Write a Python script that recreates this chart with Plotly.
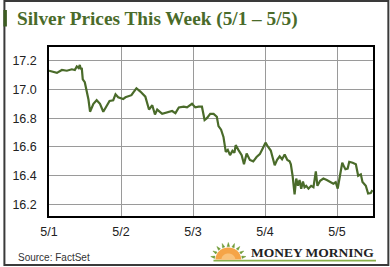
import plotly.graph_objects as go
import math

# ---- data ----
day_pos = [0, 0.055, 0.110, 0.179, 0.248, 0.317, 0.359, 0.386, 0.410, 0.428, 0.441, 0.455,
           0.469, 0.497, 0.524, 0.548, 0.570, 0.617, 0.662, 0.708, 0.754, 0.800, 0.841,
           0.892, 0.924, 0.961, 0.993, 1.030, 1.062, 1.099, 1.145, 1.172, 1.193, 1.214,
           1.269, 1.338, 1.389, 1.434, 1.472, 1.503, 1.572, 1.641, 1.710, 1.756, 1.803,
           1.872, 1.917, 1.986, 2.032, 2.079, 2.124, 2.161, 2.193, 2.239, 2.286, 2.331,
           2.354, 2.390, 2.423, 2.455, 2.483, 2.514, 2.548, 2.575, 2.593, 2.630, 2.676,
           2.708, 2.745, 2.790, 2.837, 2.883, 2.928, 2.961, 3.007, 3.044, 3.080, 3.135,
           3.168, 3.204, 3.237, 3.273, 3.310, 3.342, 3.359, 3.383, 3.411, 3.434, 3.458,
           3.480, 3.503, 3.527, 3.549, 3.572, 3.604, 3.641, 3.673, 3.706, 3.728, 3.766,
           3.811, 3.858, 3.903, 3.949, 3.982, 4.010, 4.041, 4.073, 4.101, 4.117, 4.148,
           4.170, 4.217, 4.262, 4.294, 4.331, 4.354, 4.400, 4.432, 4.469, 4.492]
prices = [17.13, 17.125, 17.115, 17.135, 17.13, 17.14, 17.135, 17.16, 17.15, 17.17, 17.14, 17.15,
          17.07, 17.05, 16.995, 16.93, 16.845, 16.90, 16.925, 16.90, 16.845, 16.89, 16.92,
          16.925, 16.966, 16.945, 16.94, 16.933, 16.945, 16.95, 16.96, 16.98, 16.995, 17.008,
          16.985, 16.95, 16.86, 16.89, 16.826, 16.86, 16.83, 16.84, 16.85, 16.835, 16.875,
          16.88, 16.875, 16.90, 16.875, 16.88, 16.88, 16.787, 16.80, 16.83, 16.83, 16.81,
          16.745, 16.72, 16.67, 16.566, 16.58, 16.543, 16.573, 16.56, 16.613, 16.58, 16.543,
          16.48, 16.555, 16.51, 16.50, 16.53, 16.55, 16.583, 16.63, 16.60, 16.575, 16.473,
          16.51, 16.535, 16.515, 16.548, 16.51, 16.50, 16.48, 16.40, 16.27, 16.38, 16.33,
          16.37, 16.31, 16.36, 16.32, 16.33, 16.31, 16.33, 16.32, 16.43, 16.33, 16.365,
          16.38, 16.37, 16.355, 16.345, 16.355, 16.31, 16.40, 16.49, 16.46, 16.445, 16.45,
          16.497, 16.49, 16.48, 16.40, 16.41, 16.357, 16.33, 16.276, 16.28, 16.30]
x_tick_vals = [0, 1, 2, 3, 4]
x_tick_text = ["5/1", "5/2", "5/3", "5/4", "5/5"]
y_tick_vals = [16.2, 16.4, 16.6, 16.8, 17.0, 17.2]
y_tick_text = ["16.2", "16.4", "16.6", "16.8", "17.0", "17.2"]

# ---- layout geometry (pixels) ----
W, H = 390, 267
L, R, T, B = 46, 17, 47, 51
PW, PH = W - L - R, H - T - B

def px(x):
    return (x - L) / PW

def py(y):
    return (H - B - y) / PH

fig = go.Figure()
fig.add_trace(go.Scatter(x=day_pos, y=prices, mode="lines",
                         line=dict(color="#4a6b2a", width=2.2), hoverinfo="skip"))

shapes = []
# outer frame
shapes.append(dict(type="rect", xref="paper", yref="paper",
                   x0=px(1), x1=px(388.5), y0=py(265), y1=py(1),
                   line=dict(color="#3a3a3a", width=2), layer="above"))
# green title bar
shapes.append(dict(type="rect", xref="paper", yref="paper",
                   x0=px(0), x1=px(3.5), y0=py(26.5), y1=py(10),
                   fillcolor="#3d5c22", line=dict(width=0)))
# logo underline
shapes.append(dict(type="rect", xref="paper", yref="paper",
                   x0=px(212), x1=px(376), y0=py(261.5), y1=py(259.8),
                   fillcolor="#8bb04a", line=dict(width=0), layer="above"))
# sun
cx, cy, rx, ry = 227, 259.5, 13, 12
pts = []
for i in range(0, 37):
    a = math.pi * i / 36
    pts.append((cx + rx * math.cos(a), cy - ry * math.sin(a)))
path = "M " + " L ".join(f"{px(a):.5f},{py(b):.5f}" for a, b in pts) + " Z"
shapes.append(dict(type="path", xref="paper", yref="paper", path=path,
                   fillcolor="#f5a447", line=dict(width=0)))
# inner lighter glow
pts2 = []
for i in range(0, 37):
    a = math.pi * i / 36
    pts2.append((cx + 7 * math.cos(a), cy - 6 * math.sin(a)))
path2 = "M " + " L ".join(f"{px(a):.5f},{py(b):.5f}" for a, b in pts2) + " Z"
shapes.append(dict(type="path", xref="paper", yref="paper", path=path2,
                   fillcolor="#f9c27a", line=dict(width=0)))
# rays
for k in range(0, 9):
    a = math.pi * (10 + 20 * k) / 180
    r0x, r0y = rx + 1, ry + 1
    r1x, r1y = rx + 5, ry + 5
    half = 0.09
    p1 = (cx + r0x * math.cos(a - half), cy - r0y * math.sin(a - half))
    p2 = (cx + r1x * math.cos(a), cy - r1y * math.sin(a))
    p3 = (cx + r0x * math.cos(a + half), cy - r0y * math.sin(a + half))
    rp = f"M {px(p1[0]):.5f},{py(p1[1]):.5f} L {px(p2[0]):.5f},{py(p2[1]):.5f} L {px(p3[0]):.5f},{py(p3[1]):.5f} Z"
    shapes.append(dict(type="path", xref="paper", yref="paper", path=rp,
                       fillcolor="#6f9a34", line=dict(color="#6f9a34", width=0.5)))

annotations = [
    dict(text="<b>Silver Prices This Week (5/1 – 5/5)</b>", xref="paper", yref="paper",
         x=px(12), y=py(19), xanchor="left", yanchor="middle", showarrow=False,
         font=dict(family="Liberation Serif", size=19.3, color="#4a6b2a")),
    dict(text="Source: FactSet", xref="paper", yref="paper",
         x=px(12.5), y=py(257), xanchor="left", yanchor="middle", showarrow=False,
         font=dict(family="Liberation Sans", size=10, color="#333333")),
    dict(text="<b>MONEY MORNING</b>", xref="paper", yref="paper",
         x=px(376), y=py(252), xanchor="right", yanchor="middle", showarrow=False,
         font=dict(family="Liberation Serif", size=13.5, color="#222222")),
]

fig.update_layout(
    width=W, height=H,
    margin=dict(l=L, r=R, t=T, b=B),
    paper_bgcolor="white", plot_bgcolor="white",
    showlegend=False,
    shapes=shapes, annotations=annotations,
    xaxis=dict(range=[0, 4.5], tickvals=x_tick_vals, ticktext=x_tick_text,
               showgrid=True, gridcolor="#9a9a9a", gridwidth=1,
               showline=True, linecolor="black", linewidth=1.5, mirror=True,
               zeroline=False, ticks="", ticklabelstandoff=3,
               tickfont=dict(family="Liberation Sans", size=12.5, color="#222222")),
    yaxis=dict(range=[16.12, 17.295], tickvals=y_tick_vals, ticktext=y_tick_text,
               showgrid=True, gridcolor="#9a9a9a", gridwidth=1,
               showline=True, linecolor="black", linewidth=1.5, mirror=True,
               zeroline=False, ticks="", ticklabelstandoff=8,
               tickfont=dict(family="Liberation Sans", size=12.5, color="#222222")),
)

fig.write_html("out.html")
